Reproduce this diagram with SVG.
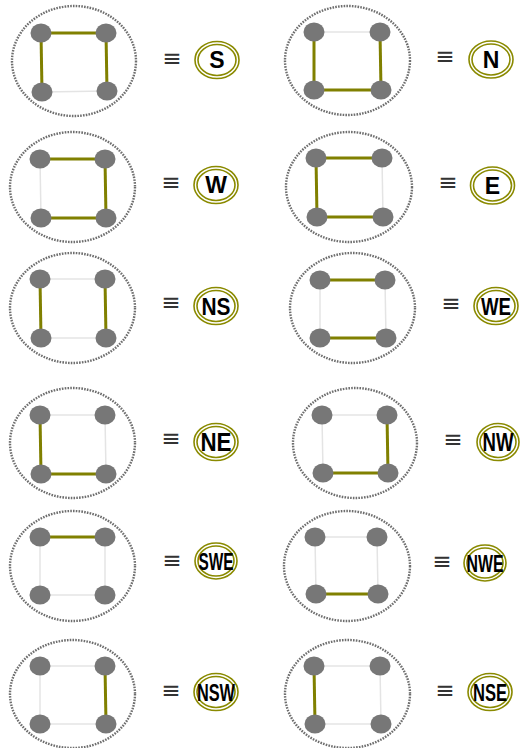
<svg xmlns="http://www.w3.org/2000/svg" width="527" height="748" viewBox="0 0 527 748">
<style>
.frame{fill:none;stroke:#6e6e6e;stroke-width:2.4;stroke-dasharray:1.6 1.2}
.nd{fill:#777777}
.on{stroke:#808000;stroke-width:3;fill:none}
.off{stroke:#e4e4e4;stroke-width:1.5;fill:none}
.eq{font-family:"DejaVu Sans",sans-serif;font-size:23px;fill:#333;text-anchor:middle}
.ring{fill:#fff;stroke:#8a8a00;stroke-width:1.6}
.ring2{fill:none;stroke:#8a8a00;stroke-width:1.6}
.lb{font-family:"Liberation Sans",Arial,sans-serif;font-weight:bold;font-size:23px;fill:#000;text-anchor:middle}
</style>
<g id="connectors">
<line class="on" x1="41" y1="33" x2="106" y2="33"/><line class="on" x1="41" y1="33" x2="42" y2="92"/><line class="on" x1="106" y1="33" x2="107" y2="91"/><line class="off" x1="42" y1="92" x2="107" y2="91"/>
<line class="off" x1="314" y1="32" x2="380" y2="32"/><line class="on" x1="314" y1="32" x2="314" y2="90"/><line class="on" x1="380" y1="32" x2="381" y2="90"/><line class="on" x1="314" y1="90" x2="381" y2="90"/>
<line class="on" x1="40" y1="159" x2="105" y2="159"/><line class="off" x1="40" y1="159" x2="41" y2="218"/><line class="on" x1="105" y1="159" x2="106" y2="218"/><line class="on" x1="41" y1="218" x2="106" y2="218"/>
<line class="on" x1="316" y1="158" x2="382" y2="158"/><line class="on" x1="316" y1="158" x2="317" y2="217"/><line class="off" x1="382" y1="158" x2="383" y2="217"/><line class="on" x1="317" y1="217" x2="383" y2="217"/>
<line class="off" x1="40" y1="279" x2="105" y2="279"/><line class="on" x1="40" y1="279" x2="41" y2="338"/><line class="on" x1="105" y1="279" x2="106" y2="338"/><line class="off" x1="41" y1="338" x2="106" y2="338"/>
<line class="on" x1="320" y1="280" x2="385" y2="280"/><line class="off" x1="320" y1="280" x2="320" y2="338"/><line class="off" x1="385" y1="280" x2="386" y2="338"/><line class="on" x1="320" y1="338" x2="386" y2="338"/>
<line class="off" x1="40" y1="415" x2="105" y2="415"/><line class="on" x1="40" y1="415" x2="41" y2="474"/><line class="off" x1="105" y1="415" x2="106" y2="474"/><line class="on" x1="41" y1="474" x2="106" y2="474"/>
<line class="off" x1="322" y1="415" x2="387" y2="415"/><line class="off" x1="322" y1="415" x2="323" y2="473"/><line class="on" x1="387" y1="415" x2="388" y2="473"/><line class="on" x1="323" y1="473" x2="388" y2="473"/>
<line class="on" x1="40" y1="537" x2="105" y2="537"/><line class="off" x1="40" y1="537" x2="40" y2="595"/><line class="off" x1="105" y1="537" x2="105" y2="595"/><line class="off" x1="40" y1="595" x2="105" y2="595"/>
<line class="off" x1="315" y1="537" x2="377" y2="537"/><line class="off" x1="315" y1="537" x2="316" y2="594"/><line class="off" x1="377" y1="537" x2="378" y2="594"/><line class="on" x1="316" y1="594" x2="378" y2="594"/>
<line class="off" x1="40" y1="666" x2="105" y2="666"/><line class="off" x1="40" y1="666" x2="40" y2="724"/><line class="on" x1="105" y1="666" x2="106" y2="724"/><line class="off" x1="40" y1="724" x2="106" y2="724"/>
<line class="off" x1="314" y1="666" x2="380" y2="666"/><line class="on" x1="314" y1="666" x2="315" y2="724"/><line class="off" x1="380" y1="666" x2="381" y2="724"/><line class="off" x1="315" y1="724" x2="381" y2="724"/>
</g>

<g id="panel-S">
<ellipse class="frame" cx="74" cy="61" rx="62" ry="55"/>
<ellipse class="nd" cx="41" cy="33" rx="10.5" ry="9.5"/><ellipse class="nd" cx="106" cy="33" rx="10.5" ry="9.5"/><ellipse class="nd" cx="42" cy="92" rx="10.5" ry="9.5"/><ellipse class="nd" cx="107" cy="91" rx="10.5" ry="9.5"/>
<text class="eq" x="172" y="66">≡</text>
<g id="label-S"><ellipse class="ring" cx="217" cy="60" rx="22" ry="18.5"/><ellipse class="ring2" cx="217" cy="60" rx="19" ry="15.5"/><text class="lb" x="217" y="68">S</text></g>
</g>

<g id="panel-N">
<ellipse class="frame" cx="347.5" cy="60.5" rx="62.5" ry="54.5"/>
<ellipse class="nd" cx="314" cy="32" rx="10.5" ry="9.5"/><ellipse class="nd" cx="380" cy="32" rx="10.5" ry="9.5"/><ellipse class="nd" cx="314" cy="90" rx="10.5" ry="9.5"/><ellipse class="nd" cx="381" cy="90" rx="10.5" ry="9.5"/>
<text class="eq" x="445" y="64">≡</text>
<g id="label-N"><ellipse class="ring" cx="491" cy="59.5" rx="22" ry="18.5"/><ellipse class="ring2" cx="491" cy="59.5" rx="19" ry="15.5"/><text class="lb" x="491" y="67.5">N</text></g>
</g>

<g id="panel-W">
<ellipse class="frame" cx="72.5" cy="187" rx="62.5" ry="55"/>
<ellipse class="nd" cx="40" cy="159" rx="10.5" ry="9.5"/><ellipse class="nd" cx="105" cy="159" rx="10.5" ry="9.5"/><ellipse class="nd" cx="41" cy="218" rx="10.5" ry="9.5"/><ellipse class="nd" cx="106" cy="218" rx="10.5" ry="9.5"/>
<text class="eq" x="171" y="190">≡</text>
<g id="label-W"><ellipse class="ring" cx="216" cy="185" rx="22" ry="18.5"/><ellipse class="ring2" cx="216" cy="185" rx="19" ry="15.5"/><text class="lb" x="216" y="193">W</text></g>
</g>

<g id="panel-E">
<ellipse class="frame" cx="349" cy="187" rx="63" ry="55"/>
<ellipse class="nd" cx="316" cy="158" rx="10.5" ry="9.5"/><ellipse class="nd" cx="382" cy="158" rx="10.5" ry="9.5"/><ellipse class="nd" cx="317" cy="217" rx="10.5" ry="9.5"/><ellipse class="nd" cx="383" cy="217" rx="10.5" ry="9.5"/>
<text class="eq" x="448" y="190">≡</text>
<g id="label-E"><ellipse class="ring" cx="492.5" cy="185.5" rx="22" ry="18.5"/><ellipse class="ring2" cx="492.5" cy="185.5" rx="19" ry="15.5"/><text class="lb" x="492.5" y="193.5">E</text></g>
</g>

<g id="panel-NS">
<ellipse class="frame" cx="72.5" cy="308" rx="62.5" ry="55"/>
<ellipse class="nd" cx="40" cy="279" rx="10.5" ry="9.5"/><ellipse class="nd" cx="105" cy="279" rx="10.5" ry="9.5"/><ellipse class="nd" cx="41" cy="338" rx="10.5" ry="9.5"/><ellipse class="nd" cx="106" cy="338" rx="10.5" ry="9.5"/>
<text class="eq" x="171" y="310">≡</text>
<g id="label-NS"><ellipse class="ring" cx="216" cy="306" rx="22" ry="18.5"/><ellipse class="ring2" cx="216" cy="306" rx="19" ry="15.5"/><text class="lb" x="216" y="314.5" textLength="29" lengthAdjust="spacingAndGlyphs" style="font-size:24px">NS</text></g>
</g>

<g id="panel-WE">
<ellipse class="frame" cx="352.5" cy="308" rx="62.5" ry="55"/>
<ellipse class="nd" cx="320" cy="280" rx="10.5" ry="9.5"/><ellipse class="nd" cx="385" cy="280" rx="10.5" ry="9.5"/><ellipse class="nd" cx="320" cy="338" rx="10.5" ry="9.5"/><ellipse class="nd" cx="386" cy="338" rx="10.5" ry="9.5"/>
<text class="eq" x="451" y="311">≡</text>
<g id="label-WE"><ellipse class="ring" cx="496" cy="306" rx="22" ry="18.5"/><ellipse class="ring2" cx="496" cy="306" rx="19" ry="15.5"/><text class="lb" x="496" y="314.5" textLength="30" lengthAdjust="spacingAndGlyphs" style="font-size:24px">WE</text></g>
</g>

<g id="panel-NE">
<ellipse class="frame" cx="72.5" cy="443" rx="62.5" ry="55"/>
<ellipse class="nd" cx="40" cy="415" rx="10.5" ry="9.5"/><ellipse class="nd" cx="105" cy="415" rx="10.5" ry="9.5"/><ellipse class="nd" cx="41" cy="474" rx="10.5" ry="9.5"/><ellipse class="nd" cx="106" cy="474" rx="10.5" ry="9.5"/>
<text class="eq" x="171" y="446">≡</text>
<g id="label-NE"><ellipse class="ring" cx="216" cy="442" rx="22" ry="18.5"/><ellipse class="ring2" cx="216" cy="442" rx="19" ry="15.5"/><text class="lb" x="216" y="451" textLength="31" lengthAdjust="spacingAndGlyphs" style="font-size:25px">NE</text></g>
</g>

<g id="panel-NW">
<ellipse class="frame" cx="355" cy="443" rx="62" ry="55"/>
<ellipse class="nd" cx="322" cy="415" rx="10.5" ry="9.5"/><ellipse class="nd" cx="387" cy="415" rx="10.5" ry="9.5"/><ellipse class="nd" cx="323" cy="473" rx="10.5" ry="9.5"/><ellipse class="nd" cx="388" cy="473" rx="10.5" ry="9.5"/>
<text class="eq" x="453" y="447">≡</text>
<g id="label-NW"><ellipse class="ring" cx="498" cy="442" rx="21" ry="18.5"/><ellipse class="ring2" cx="498" cy="442" rx="18" ry="15.5"/><text class="lb" x="498" y="451" textLength="31" lengthAdjust="spacingAndGlyphs" style="font-size:25px">NW</text></g>
</g>

<g id="panel-SWE">
<ellipse class="frame" cx="72.5" cy="566" rx="62.5" ry="55"/>
<ellipse class="nd" cx="40" cy="537" rx="10.5" ry="9.5"/><ellipse class="nd" cx="105" cy="537" rx="10.5" ry="9.5"/><ellipse class="nd" cx="40" cy="595" rx="10.5" ry="9.5"/><ellipse class="nd" cx="105" cy="595" rx="10.5" ry="9.5"/>
<text class="eq" x="172" y="568">≡</text>
<g id="label-SWE"><ellipse class="ring" cx="216" cy="561" rx="21" ry="18"/><ellipse class="ring2" cx="216" cy="561" rx="18" ry="15"/><text class="lb" x="216" y="569.5" textLength="35" lengthAdjust="spacingAndGlyphs" style="font-size:24px">SWE</text></g>
</g>

<g id="panel-NWE">
<ellipse class="frame" cx="347" cy="566" rx="63" ry="55"/>
<ellipse class="nd" cx="315" cy="537" rx="10.5" ry="9.5"/><ellipse class="nd" cx="377" cy="537" rx="10.5" ry="9.5"/><ellipse class="nd" cx="316" cy="594" rx="10.5" ry="9.5"/><ellipse class="nd" cx="378" cy="594" rx="10.5" ry="9.5"/>
<text class="eq" x="442" y="569">≡</text>
<g id="label-NWE"><ellipse class="ring" cx="485" cy="563" rx="21" ry="18"/><ellipse class="ring2" cx="485" cy="563" rx="18" ry="15"/><text class="lb" x="485" y="571.5" textLength="37" lengthAdjust="spacingAndGlyphs" style="font-size:24px">NWE</text></g>
</g>

<g id="panel-NSW">
<ellipse class="frame" cx="72.5" cy="694" rx="62.5" ry="54"/>
<ellipse class="nd" cx="40" cy="666" rx="10.5" ry="9.5"/><ellipse class="nd" cx="105" cy="666" rx="10.5" ry="9.5"/><ellipse class="nd" cx="40" cy="724" rx="10.5" ry="9.5"/><ellipse class="nd" cx="106" cy="724" rx="10.5" ry="9.5"/>
<text class="eq" x="171" y="698">≡</text>
<g id="label-NSW"><ellipse class="ring" cx="216" cy="692" rx="22" ry="18.5"/><ellipse class="ring2" cx="216" cy="692" rx="19" ry="15.5"/><text class="lb" x="216" y="700.5" textLength="38" lengthAdjust="spacingAndGlyphs" style="font-size:24px">NSW</text></g>
</g>

<g id="panel-NSE">
<ellipse class="frame" cx="347.5" cy="694" rx="62.5" ry="54"/>
<ellipse class="nd" cx="314" cy="666" rx="10.5" ry="9.5"/><ellipse class="nd" cx="380" cy="666" rx="10.5" ry="9.5"/><ellipse class="nd" cx="315" cy="724" rx="10.5" ry="9.5"/><ellipse class="nd" cx="381" cy="724" rx="10.5" ry="9.5"/>
<text class="eq" x="445" y="698">≡</text>
<g id="label-NSE"><ellipse class="ring" cx="490" cy="692" rx="22" ry="18.5"/><ellipse class="ring2" cx="490" cy="692" rx="19" ry="15.5"/><text class="lb" x="490" y="700.5" textLength="34" lengthAdjust="spacingAndGlyphs" style="font-size:24px">NSE</text></g>
</g>
</svg>
